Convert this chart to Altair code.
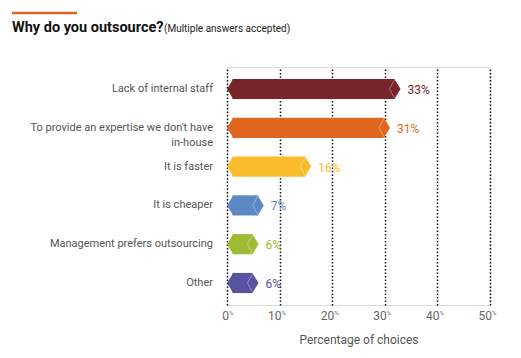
import altair as alt
import pandas as pd

categories = [
    "Lack of internal staff",
    "To provide an expertise we don't have|in-house",
    "It is faster",
    "It is cheaper",
    "Management prefers outsourcing",
    "Other",
]
values = [33, 31, 16, 7, 6, 6]
bar_colors = ["#772529", "#E0651E", "#FBBC2B", "#5C88C6", "#9EBB33", "#5753A0"]
label_colors = ["#772529", "#E0651E", "#E8AA22", "#6F7FC0", "#9EBB33", "#5753A0"]
ticks = [0, 10, 20, 30, 40, 50]

FONT = "Roboto, Liberation Sans, sans-serif"
W, H = 263, 238
TIP = 1.05   # horizontal depth of the pointed ends, in % units
HALF = 0.26  # half bar thickness, in category units

facets = []
for i, (c, v) in enumerate(zip(categories, values)):
    for k, (x, hh) in enumerate([(v - TIP, -HALF), (v - 2 * TIP, 0), (v - TIP, HALF)]):
        facets.append({"cat": c, "k": k, "x": x, "y": i + hh})
facetdf = pd.DataFrame(facets)
lab = pd.DataFrame({"cat": categories, "v": values, "i": list(range(len(values))),
                    "txt": [f"{v}%" for v in values]})
lab["x0"] = TIP
lab["x1"] = lab["v"] - TIP
lab["y0"] = lab["i"] - HALF
lab["y1"] = lab["i"] + HALF
lab["zero"] = 0
tickdf = pd.DataFrame({"t": ticks, "s": [str(t) for t in ticks]})

xs = alt.Scale(domain=[0, 50], nice=False, zero=False)
ys = alt.Scale(domain=[-0.567, 5.567], reverse=True, nice=False, zero=False)
cs = alt.Scale(domain=categories, range=bar_colors)
ls = alt.Scale(domain=categories, range=label_colors)

base = alt.Chart(lab)

bodies = base.mark_bar(cornerRadius=0).encode(
    x=alt.X("x0:Q", scale=xs, axis=alt.Axis(
        values=ticks, labels=False, ticks=False, domain=False, grid=True,
        gridColor="#111111", gridDash=[1.5, 2], gridWidth=1.5,
        title="Percentage of choices", titleFont=FONT, titleFontSize=12,
        titleFontWeight="normal", titleColor="#555555", titlePadding=29)),
    x2="x1:Q",
    y=alt.Y("y0:Q", scale=ys, axis=None),
    y2="y1:Q",
    color=alt.Color("cat:N", scale=cs, legend=None),
)

left_tips = base.mark_point(shape="M0,0L0.62,-1L0.62,1Z", size=400, filled=True,
                            opacity=1, strokeWidth=0).encode(
    x=alt.X("zero:Q", scale=xs), y=alt.Y("i:Q", scale=ys),
    color=alt.Color("cat:N", scale=cs, legend=None))
right_tips = base.mark_point(shape="M0,0L-0.62,-1L-0.62,1Z", size=400, filled=True,
                             opacity=1, strokeWidth=0).encode(
    x=alt.X("v:Q", scale=xs), y=alt.Y("i:Q", scale=ys),
    color=alt.Color("cat:N", scale=cs, legend=None))

facet_lines = alt.Chart(facetdf).mark_line(color="white", strokeWidth=0.8, opacity=0.45).encode(
    x=alt.X("x:Q", scale=xs), y=alt.Y("y:Q", scale=ys), detail="cat:N", order="k:Q")

value_labels = base.mark_text(align="left", baseline="middle", dx=7, dy=1,
                              font=FONT, fontSize=12).encode(
    x=alt.X("v:Q", scale=xs), y=alt.Y("i:Q", scale=ys), text="txt:N",
    color=alt.Color("cat:N", scale=ls, legend=None))

cat_labels = base.mark_text(align="right", baseline="middle", lineBreak="|",
                            lineHeight=15, font=FONT, fontSize=11,
                            color="#555555").encode(
    x=alt.value(-14), y=alt.Y("i:Q", scale=ys), text="cat:N")

tick_nums = alt.Chart(tickdf).mark_text(align="right", baseline="middle", dx=2,
                                        font=FONT, fontSize=12, color="#666666").encode(
    x=alt.X("t:Q", scale=xs), y=alt.value(H + 11), text="s:N")
tick_pct = alt.Chart(tickdf).mark_text(align="left", baseline="middle", dx=2, dy=-3,
                                       font=FONT, fontSize=6, color="#666666").encode(
    x=alt.X("t:Q", scale=xs), y=alt.value(H + 11), text=alt.value("%"))

one = alt.Chart(tickdf.head(1))
title_rule = one.mark_rule(color="#E0651E", strokeWidth=2.5).encode(
    x=alt.value(-215), x2=alt.value(-150), y=alt.value(-54))
title_main = one.mark_text(
    align="left", baseline="middle", font=FONT, fontSize=14.5, fontWeight="bold",
    color="#111111").encode(x=alt.value(-215), y=alt.value(-39),
                            text=alt.value("Why do you outsource?"))
title_sub = one.mark_text(
    align="left", baseline="middle", font=FONT, fontSize=10, color="#222222").encode(
    x=alt.value(-63), y=alt.value(-38), text=alt.value("(Multiple answers accepted)"))

chart = alt.layer(bodies, left_tips, right_tips, facet_lines, value_labels, cat_labels,
                  tick_nums, tick_pct, title_rule, title_main, title_sub).properties(
    width=W, height=H,
    autosize=alt.AutoSizeParams(type="none"),
    padding={"left": 219, "top": 59, "right": 23, "bottom": 45},
).configure_view(stroke=None).configure(background="white")

chart.save("out.html", embed_options={"renderer": "svg", "actions": False})
